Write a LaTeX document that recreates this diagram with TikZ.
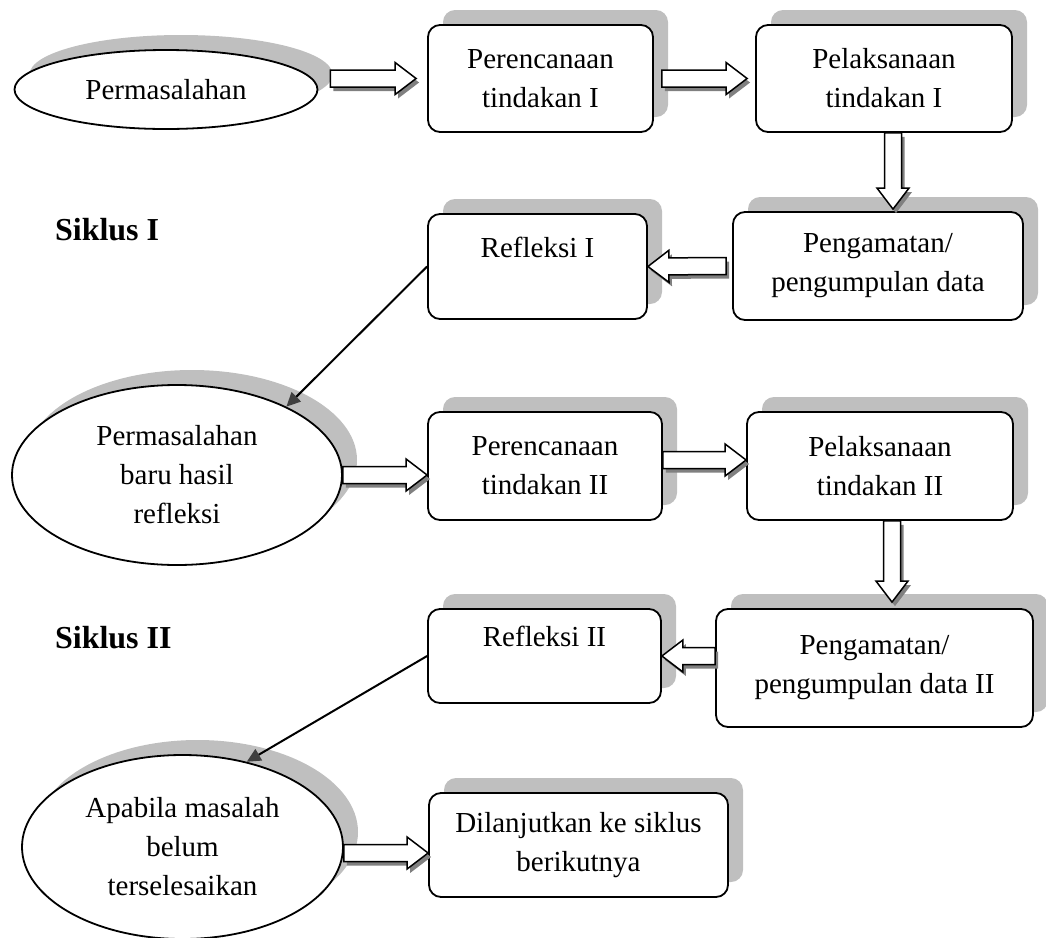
\documentclass[tikz,border=0pt]{standalone}
\usepackage{fontspec}
\setmainfont{Liberation Serif}
\usetikzlibrary{arrows.meta,shapes.geometric,shadows,calc}

\begin{document}
\begin{tikzpicture}[x=0.5pt,y=-0.5pt,
	>={Triangle[length=7pt,width=6.5pt,color=black!75]},
	kotak/.style={draw,line width=0.9pt,rounded corners=6pt,fill=white,
		align=center,inner sep=2pt,font=\fontsize{14.5}{19.5}\selectfont,
		general shadow={fill=gray!50,shadow xshift=7.5pt,shadow yshift=7.5pt}},
	elips/.style={kotak,ellipse,sharp corners},
	judul/.style={anchor=west,font=\fontsize{16}{19}\selectfont\bfseries}]

\useasboundingbox (0,0) rectangle (1046,938);

% panah blok dari #1 ke #2
\def\bentuk{(0pt,-4.25pt) -- ({\pjg pt-10.5pt},-4.25pt) -- ({\pjg pt-10.5pt},-8pt)
	-- (\pjg pt,0pt) -- ({\pjg pt-10.5pt},8pt) -- ({\pjg pt-10.5pt},4.25pt)
	-- (0pt,4.25pt) -- cycle}
\def\panah#1#2{
	\coordinate (pA) at (#1);
	\coordinate (pB) at (#2);
	\pgfpointdiff{\pgfpointanchor{pA}{center}}{\pgfpointanchor{pB}{center}}
	\pgfgetlastxy\panahdx\panahdy
	\pgfmathsetmacro\sudut{atan2(\panahdy,\panahdx)}
	\pgfmathsetmacro\pjg{veclen(\panahdx,\panahdy)}
	\fill[color=gray,shift={(pA)},xshift=1.5pt,yshift=-2pt,rotate=\sudut] \bentuk;
	\draw[fill=white,line width=0.75pt,shift={(pA)},rotate=\sudut] \bentuk;
}

% siklus I
\node[elips,minimum width=151.5pt,minimum height=39.5pt] (masalah1) at (166,89.5) {Permasalahan};
\node[kotak,minimum width=112.5pt,minimum height=53.5pt] (rencana1) at (540.5,78.5) {Perencanaan\\tindakan I};
\node[kotak,minimum width=128pt,minimum height=53.5pt] (laksana1) at (884,78.5) {Pelaksanaan\\tindakan I};
\node[kotak,minimum width=145pt,minimum height=54pt] (amat1) at (878,266) {Pengamatan/\\pengumpulan data};
\node[kotak,minimum width=109.5pt,minimum height=52.5pt] (refleksi1) at (537.5,266.5) {Refleksi I\\\mbox{}};
\node[judul] (siklus1) at (48,230) {Siklus I};

% siklus II
\node[elips,minimum width=165pt,minimum height=90pt] (masalah2) at (177,475) {Permasalahan\\baru hasil\\refleksi};
\node[kotak,minimum width=117pt,minimum height=54pt] (rencana2) at (545,466) {Perencanaan\\tindakan II};
\node[kotak,minimum width=133pt,minimum height=54pt] (laksana2) at (880,466) {Pelaksanaan\\tindakan II};
\node[kotak,minimum width=158.5pt,minimum height=59pt] (amat2) at (874.5,668) {Pengamatan/\\pengumpulan data II};
\node[kotak,minimum width=116.5pt,minimum height=47pt] (refleksi2) at (544.5,656) {Refleksi II\\\mbox{}};
\node[judul] (siklus2) at (48,638) {Siklus II};

% lanjutan
\node[elips,minimum width=160.5pt,minimum height=92pt] (masalah3) at (182.5,847) {Apabila masalah\\belum\\terselesaikan};
\node[kotak,minimum width=149.5pt,minimum height=52pt] (lanjut) at (578.5,845) {Dilanjutkan ke siklus\\berikutnya};

\panah{$(masalah1.east |- rencana1.west)+(12,0)$}{$(rencana1.west)+(-11,0)$}
\panah{$(rencana1.east)+(8,0)$}{$(laksana1.west)+(-8,0)$}
\panah{$(laksana1.south)+(9,0)$}{$(laksana1.south |- amat1.north)+(9,-2)$}
\panah{$(amat1.west)+(-6,0)$}{refleksi1.east}
\draw[->,line width=1pt] (refleksi1.west) -- (masalah2.32);

\panah{masalah2.east}{rencana2.west |- masalah2.east}
\panah{$(rencana2.east)+(0,-6)$}{$(laksana2.west)+(0,-6)$}
\panah{$(laksana2.south)+(12,0)$}{$(laksana2.south |- amat2.north)+(12,-6)$}
\panah{amat2.west |- refleksi2.east}{refleksi2.east}
\draw[->,line width=1pt] (refleksi2.west) -- (masalah3.53);

\panah{$(masalah3.east)+(0,6)$}{$(lanjut.west |- masalah3.east)+(0,6)$}

\end{tikzpicture}
\end{document}
